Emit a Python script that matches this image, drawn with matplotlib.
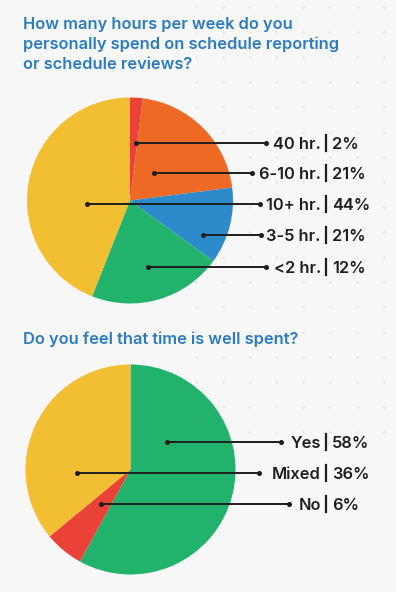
import numpy as np
import matplotlib.pyplot as plt
from matplotlib.lines import Line2D

# chart data
hours_cats = ["40 hr.", "6-10 hr.", "3-5 hr.", "<2 hr.", "10+ hr."]
hours_share = [2, 21, 12, 21, 44]          # wedge sizes as drawn
hours_pct = ["2%", "21%", "21%", "12%", "44%"]  # percentages as printed
hours_colors = ["#EA4236", "#EE6A24", "#2D8BCB", "#21B36C", "#F2BF32"]

spent_cats = ["Yes", "No", "Mixed"]
spent_share = [58, 6, 36]
spent_pct = ["58%", "6%", "36%"]
spent_colors = ["#21B36C", "#EA4236", "#F2BF32"]

title1 = ["How many hours per week do you",
          "personally spend on schedule reporting",
          "or schedule reviews?"]
title2 = "Do you feel that time is well spent?"

W, H = 396, 592
BG = "#F7F7F7"
TITLE_C = "#2A7BC0"
INK = "#1E1E1E"


def Y(y):
    # image pixel rows (top down) -> data y
    return H - y


fig = plt.figure(figsize=(W / 100, H / 100), dpi=100)
fig.patch.set_facecolor(BG)
ax = fig.add_axes([0, 0, 1, 1])
ax.set_xlim(0, W)
ax.set_ylim(0, H)
ax.set_aspect("equal")
ax.axis("off")

font = "Inter"

# faint dotted backdrop on the right side
gx, gy = np.meshgrid(np.arange(196, W, 26.8), np.arange(7, 440, 25))
ax.scatter(gx.ravel(), Y(gy.ravel()), s=3, color="#E6E6E6", lw=0, zorder=0)

# titles
for i, line in enumerate(title1):
    ax.text(23, Y(28.5 + i * 20.3), line, color=TITLE_C, fontsize=11.8,
            fontweight="semibold", family=font, va="baseline")
ax.text(23, Y(344), title2, color=TITLE_C, fontsize=11.8,
        fontweight="semibold", family=font, va="baseline")


def draw_pie(values, colors, center, radius):
    ax.pie(values, colors=colors, startangle=90, counterclock=False,
           center=(center[0], Y(center[1])), radius=radius, frame=True,
           wedgeprops=dict(linewidth=0, zorder=2))


def leader(x0, x1, y, name, pct, bar_x=326):
    yy = Y(y)
    ax.add_line(Line2D([x0, x1], [yy, yy], color=INK, lw=1.4,
                       solid_capstyle="butt", zorder=5))
    ax.plot([x0, x1], [yy, yy], "o", color=INK, ms=2.6, zorder=6)
    ax.text(bar_x - 5, yy, name, ha="right", va="center_baseline",
            fontsize=11.8, fontweight="semibold", family=font, color=INK)
    ax.text(bar_x + 6, yy, pct, ha="left", va="center_baseline",
            fontsize=11.8, fontweight="semibold", family=font, color=INK)
    ax.add_line(Line2D([bar_x, bar_x], [yy - 8, yy + 8], color=INK, lw=1.6))


draw_pie(hours_share, hours_colors, (130, 200.5), 103)
ax.set_xlim(0, W)
ax.set_ylim(0, H)

# label rows: (slice index, row y, inner x, outer x)
rows1 = [(0, 143, 136, 266), (1, 173, 154, 252), (4, 204, 87, 260),
         (2, 235, 203, 261), (3, 267, 148, 266)]
for k, y, xi, xo in rows1:
    leader(xi, xo, y, hours_cats[k], hours_pct[k])

draw_pie(spent_share, spent_colors, (130.5, 469.5), 105)
ax.set_xlim(0, W)
ax.set_ylim(0, H)

rows2 = [(0, 442, 167, 281), (2, 473, 77, 259), (1, 504, 101, 289)]
for k, y, xi, xo in rows2:
    leader(xi, xo, y, spent_cats[k], spent_pct[k])

fig.savefig("out.png", dpi=100, facecolor=BG)
